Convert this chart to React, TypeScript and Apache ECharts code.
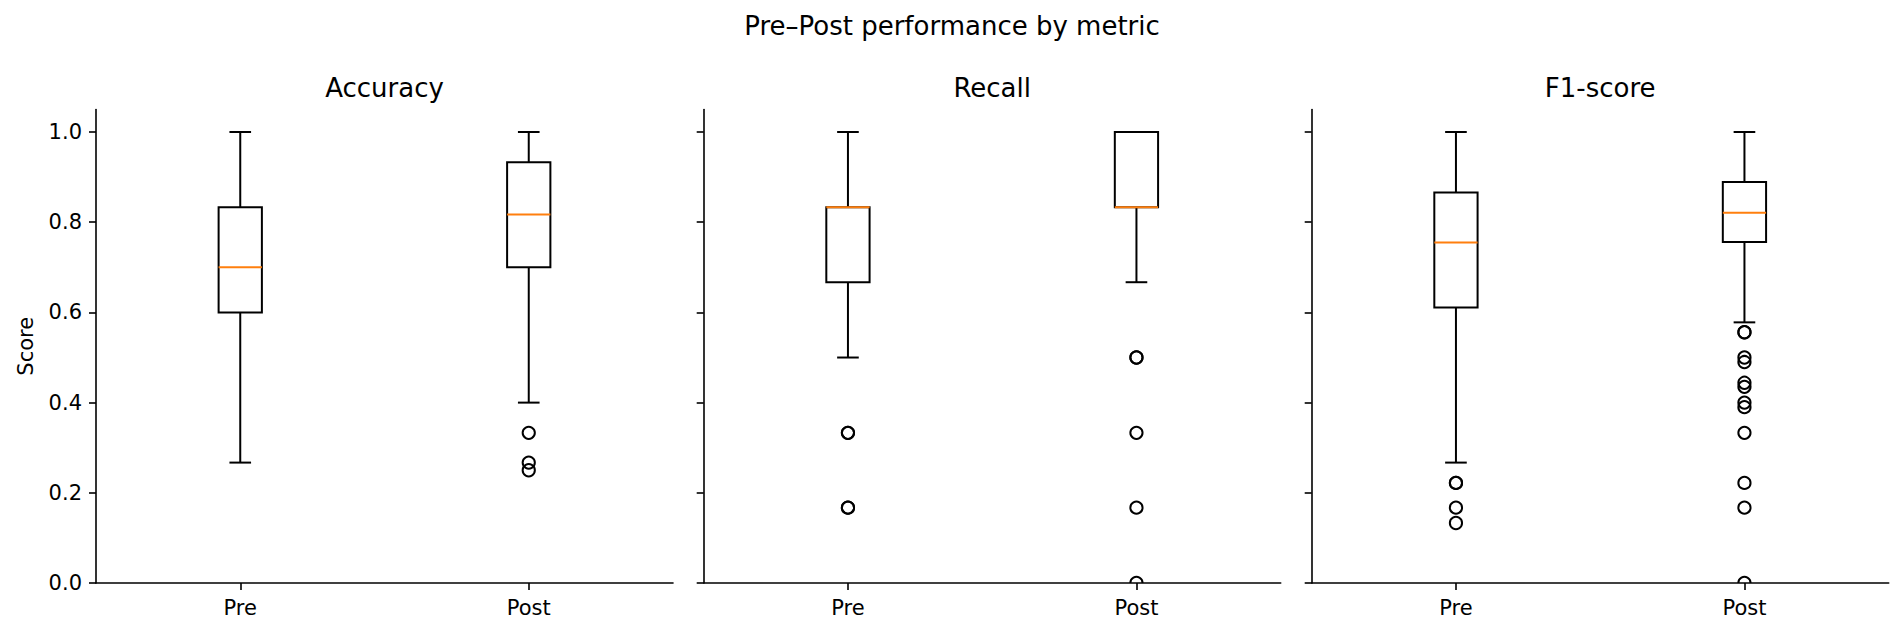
import React, { useEffect, useRef } from "react";
import * as echarts from "echarts";

// ---- data ----
const categories = ["Pre", "Post"];
const metrics = ["Accuracy", "Recall", "F1-score"];
const yTicks = [0, 0.2, 0.4, 0.6, 0.8, 1.0];

// [whisker low, Q1, median, Q3, whisker high]
const accuracyPre = [0.267, 0.6, 0.7, 0.833, 1.0];
const accuracyPost = [0.4, 0.7, 0.817, 0.933, 1.0];
const recallPre = [0.5, 0.667, 0.833, 0.833, 1.0];
const recallPost = [0.667, 0.833, 0.833, 1.0, 1.0];
const f1Pre = [0.267, 0.611, 0.755, 0.866, 1.0];
const f1Post = [0.578, 0.756, 0.821, 0.889, 1.0];

// outliers (repeated values where several points overlap)
const accuracyPreOut: number[] = [];
const accuracyPostOut = [0.333, 0.267, 0.25];
const recallPreOut = [0.333, 0.333, 0.167, 0.167];
const recallPostOut = [0.5, 0.5, 0.333, 0.167, 0.0];
const f1PreOut = [0.222, 0.222, 0.167, 0.133];
const f1PostOut = [0.556, 0.556, 0.5, 0.49, 0.444, 0.435, 0.4, 0.39, 0.333, 0.222, 0.167, 0.0];

const boxStats = [
  [accuracyPre, accuracyPost],
  [recallPre, recallPost],
  [f1Pre, f1Post],
];
const outlierSets = [
  [accuracyPreOut, accuracyPostOut],
  [recallPreOut, recallPostOut],
  [f1PreOut, f1PostOut],
];

const FONT = "DejaVu Sans";
const gridLefts = [96, 703.7, 1311.7];
const GRID_W = 577;
const GRID_TOP = 109.5;
const GRID_BOTTOM = 583;

export default function App() {
  const ref = useRef<HTMLDivElement>(null);
  useEffect(() => {
    if (!ref.current) return;
    const chart = echarts.init(ref.current, undefined, { renderer: "svg" });

    const grids = gridLefts.map((l) => ({
      left: l,
      top: GRID_TOP,
      width: GRID_W,
      height: GRID_BOTTOM - GRID_TOP,
      containLabel: false,
    }));

    const axisLine = { show: true, lineStyle: { color: "#000", width: 1.6 } };
    const xAxes = gridLefts.map((_, i) => ({
      type: "category",
      gridIndex: i,
      data: categories,
      boundaryGap: true,
      axisLine,
      axisTick: { show: true, alignWithLabel: true, length: 7, lineStyle: { color: "#000", width: 1.6 } },
      axisLabel: { color: "#000", fontSize: 21, fontFamily: FONT, margin: 14 },
      splitLine: { show: false },
    }));
    const yAxes = gridLefts.map((_, i) => ({
      type: "value",
      gridIndex: i,
      min: 0,
      max: 1.05,
      interval: 0.2,
      name: i === 0 ? "Score" : "",
      nameLocation: "middle",
      nameGap: 60,
      nameTextStyle: { color: "#000", fontSize: 21, fontFamily: FONT },
      axisLine,
      axisTick: {
        show: true,
        length: 7,
        customValues: yTicks,
        lineStyle: { color: "#000", width: 1.6 },
      },
      axisLabel: {
        show: i === 0,
        customValues: yTicks,
        color: "#000",
        fontSize: 21,
        fontFamily: FONT,
        margin: 14,
        formatter: (v: number) => v.toFixed(1),
      },
      splitLine: { show: false },
    }));

    const series: any[] = [];
    boxStats.forEach((pair, gi) => {
      series.push({
        type: "custom",
        xAxisIndex: gi,
        yAxisIndex: gi,
        clip: true,
        encode: { x: 0, y: [1, 2, 3, 4, 5] },
        data: pair.map((s, ci) => [ci, ...s]),
        renderItem: (params: any, api: any) => {
          const c = api.value(0);
          const band = api.size([1, 0])[0];
          const bw = band * 0.15;
          const cw = bw / 2;
          const pLo = api.coord([c, api.value(1)]);
          const pQ1 = api.coord([c, api.value(2)]);
          const pMed = api.coord([c, api.value(3)]);
          const pQ3 = api.coord([c, api.value(4)]);
          const pHi = api.coord([c, api.value(5)]);
          const x = pMed[0];
          const st = { stroke: "#000", lineWidth: 2, fill: "none" };
          return {
            type: "group",
            children: [
              { type: "line", shape: { x1: x, y1: pQ1[1], x2: x, y2: pLo[1] }, style: st },
              { type: "line", shape: { x1: x, y1: pQ3[1], x2: x, y2: pHi[1] }, style: st },
              { type: "line", shape: { x1: x - cw / 2, y1: pLo[1], x2: x + cw / 2, y2: pLo[1] }, style: st },
              { type: "line", shape: { x1: x - cw / 2, y1: pHi[1], x2: x + cw / 2, y2: pHi[1] }, style: st },
              {
                type: "rect",
                shape: { x: x - bw / 2, y: pQ3[1], width: bw, height: pQ1[1] - pQ3[1] },
                style: st,
              },
              {
                type: "line",
                shape: { x1: x - bw / 2, y1: pMed[1], x2: x + bw / 2, y2: pMed[1] },
                style: { stroke: "#ff7f0e", lineWidth: 2 },
              },
            ],
          };
        },
      });
      const outData: number[][] = [];
      outlierSets[gi].forEach((arr, ci) => arr.forEach((v) => outData.push([ci, v])));
      series.push({
        type: "custom",
        xAxisIndex: gi,
        yAxisIndex: gi,
        clip: true,
        encode: { x: 0, y: 1 },
        data: outData,
        renderItem: (params: any, api: any) => {
          const p = api.coord([api.value(0), api.value(1)]);
          return {
            type: "circle",
            shape: { cx: p[0], cy: p[1], r: 6.1 },
            style: { fill: "none", stroke: "#000", lineWidth: 2 },
          };
        },
      });
    });

    const titleStyle = { color: "#000", fontSize: 26, fontWeight: "normal", fontFamily: FONT };
    const titles: any[] = [
      { text: "Pre–Post performance by metric", left: 952, top: 13, textAlign: "center", padding: 0, textStyle: titleStyle },
      ...metrics.map((m, i) => ({
        text: m,
        left: gridLefts[i] + GRID_W / 2,
        top: 75,
        textAlign: "center",
        padding: 0,
        textStyle: titleStyle,
      })),
    ];

    chart.setOption({
      animation: false,
      backgroundColor: "#fff",
      title: titles,
      grid: grids,
      xAxis: xAxes,
      yAxis: yAxes,
      series,
    });
    return () => chart.dispose();
  }, []);
  return (
    <div
      ref={ref}
      style={{ position: "fixed", left: 0, top: 0, width: 1904, height: 635 }}
    />
  );
}
